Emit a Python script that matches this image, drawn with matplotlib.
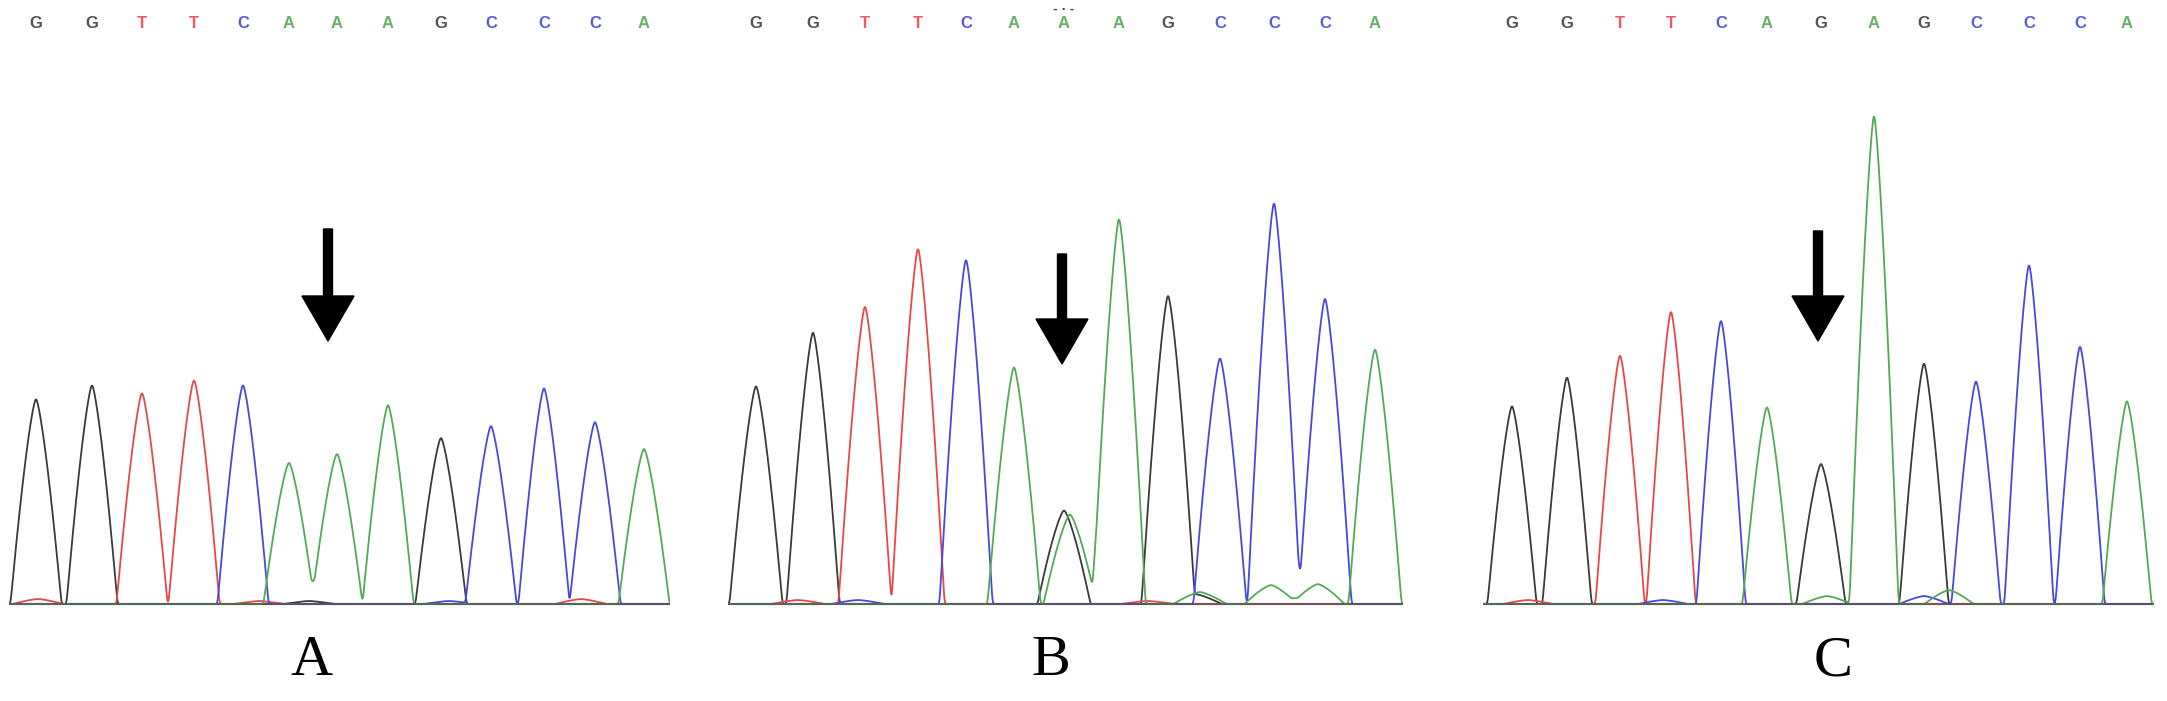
# Importing the libraries
import numpy as np
import matplotlib
matplotlib.use("Agg")
import matplotlib.pyplot as plt
from matplotlib.patches import FancyArrow

# base calls shown above each trace
seq_A = "GGTTCAAAGCCCA"
seq_B = "GGTTCAAAGCCCA"
seq_C = "GGTTCAGAGCCCA"

# dye of each main peak (B has a G peak under the called A)
peak_bases_A = "GGTTCAAAGCCCA"
peak_bases_B = "GGTTCAGAGCCCA"
peak_bases_C = "GGTTCAGAGCCCA"

# main peak positions (scan units) and heights for each panel
pos_A = [27, 83, 133, 185, 234, 280, 328, 379, 432, 482, 535, 586, 635]
height_A = [206, 220, 212, 225, 220, 142, 151, 200, 167, 179, 217, 183, 156]

pos_B = [28, 85, 137, 190, 238, 286, 336, 391, 440, 492, 546, 597, 647]
height_B = [219, 273, 299, 357, 346, 238, 94, 387, 310, 247, 403, 307, 256]

pos_C = [29, 84, 137, 188, 238, 284, 338, 391, 441, 493, 546, 597, 644]
height_C = [199, 228, 250, 294, 285, 198, 141, 491, 242, 224, 341, 259, 204]

# small secondary peaks (dye, position, height)
minor_A = [("T", 29, 5), ("T", 572, 5), ("C", 440, 3), ("G", 300, 3), ("T", 250, 3)]
minor_B = [("A", 342, 90), ("A", 472, 12), ("A", 543, 19), ("A", 590, 20),
           ("G", 467, 10), ("T", 70, 4), ("C", 130, 4), ("T", 420, 3)]
minor_C = [("A", 344, 8), ("A", 466, 14), ("C", 441, 8), ("T", 45, 4), ("C", 180, 4)]

panel_labels = ["A", "B", "C"]

# trace colours per dye
colors = {"G": "#3a3a3a", "T": "#e8474a", "C": "#4848e0", "A": "#55a857"}
letter_colors = {"G": "#555555", "T": "#ee5a66", "C": "#5a5ad8", "A": "#6aae6a"}

W, H = 2167, 701
baseline_px = 604

fig = plt.figure(figsize=(W / 100, H / 100), dpi=100)

# panel layout in pixels: left edge, width, half peak width, arrow x, label x
panels = [
    (seq_A, peak_bases_A, pos_A, height_A, minor_A, 9, 661, 25.5, 319, 302),
    (seq_B, peak_bases_B, pos_B, height_B, minor_B, 728, 675, 26.5, 334, 323),
    (seq_C, peak_bases_C, pos_C, height_C, minor_C, 1483, 671, 24.5, 335, 350),
]
arrow_top = [375, 350, 373]
arrow_tip = [263, 240, 263]

# light smoothing so the valleys are not sharp corners
k = np.arange(-4, 5)
kernel = np.exp(-0.5 * (k / 1.5) ** 2)
kernel /= kernel.sum()


def make_trace(x, peaks, half_w):
    # nearly triangular peaks with a rounded tip
    y = np.zeros_like(x, dtype=float)
    for p, h in peaks:
        d = np.clip(np.abs(x - p) / half_w, 0, 1)
        y += h * (1 - d ** 1.35)
    return np.convolve(y, kernel, mode="same")


for i, (seq, dyes, pos, hts, minor, left, width, half_w, ar_x, lab_x) in enumerate(panels):
    ax = fig.add_axes([left / W, 0, width / W, 1])
    ax.set_xlim(0, width)
    ax.set_ylim(-(H - baseline_px), baseline_px)
    ax.axis("off")

    x = np.arange(0, width + 0.5, 0.5)

    for base in ["G", "T", "C", "A"]:
        peaks = [(p, h) for b, p, h in zip(dyes, pos, hts) if b == base]
        peaks += [(p, h) for b, p, h in minor if b == base]
        y = make_trace(x, peaks, half_w)
        ax.plot(x, y, color=colors[base], lw=1.3, zorder=2)
    ax.plot([0, width], [0, 0], color="#555555", lw=1.6, alpha=0.75, zorder=3)

    # base letters across the top
    for b, p in zip(seq, pos):
        ax.text(p, 580, b, color=letter_colors[b], fontsize=12, fontweight="bold",
                family="Liberation Sans", ha="center", va="center")
    if i == 1:
        ax.text(pos[6], 594, "- · -", color="#444444", fontsize=8,
                fontweight="bold", ha="center", va="center")

    # arrow pointing at the mutation site
    ax.add_patch(FancyArrow(ar_x, arrow_top[i], 0, arrow_tip[i] - arrow_top[i],
                            width=9, head_width=52, head_length=45,
                            length_includes_head=True, color="black", zorder=4))

    # panel label
    ax.text(lab_x, -57, panel_labels[i], fontsize=42, family="Liberation Serif",
            ha="center", va="center", color="black")

fig.savefig("out.png", dpi=100)
